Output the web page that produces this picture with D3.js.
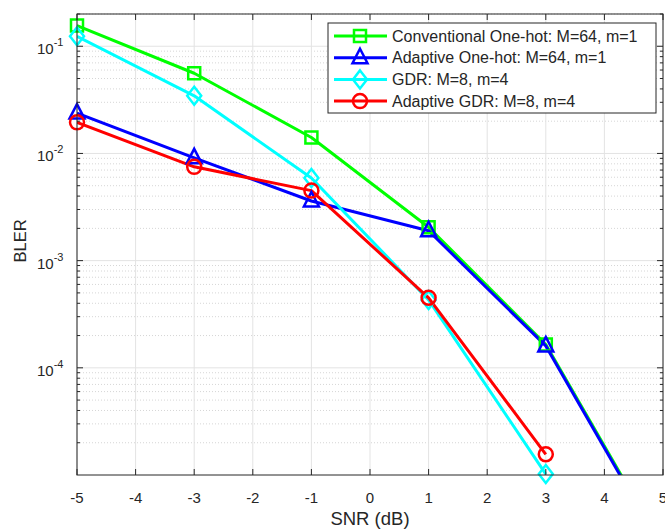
<!DOCTYPE html>
<html>
<head>
<meta charset="utf-8">
<script src="https://cdn.jsdelivr.net/npm/d3@7"></script>
<style>
  body { margin: 0; background: #fff; }
  text { font-family: "Liberation Sans", Arial, sans-serif; fill: #262626; }
</style>
</head>
<body>
<svg id="chartSVG" width="665" height="531"></svg>
<script>
// SNR points (dB)
var snr = [-5, -3, -1, 1, 3, 5];
var convOneHot = [0.156, 0.056, 0.0141, 0.00205, 0.000165, 0.0000021];
var adaptOneHot = [0.0238, 0.0091, 0.0036, 0.0019, 0.00016, 0.000002];
var gdr = [0.124, 0.0345, 0.0059, 0.00043, 0.0000102];
var adaptGdr = [0.0195, 0.0075, 0.0045, 0.00045, 0.0000156];
var xTicks = [-5, -4, -3, -2, -1, 0, 1, 2, 3, 4, 5];
var yTicks = [-1, -2, -3, -4];
var seriesNames = ["Conventional One-hot: M=64, m=1", "Adaptive One-hot: M=64, m=1", "GDR: M=8, m=4", "Adaptive GDR: M=8, m=4"];

var series = [
  { name: seriesNames[0], values: convOneHot, color: "#00ff00", marker: "square" },
  { name: seriesNames[1], values: adaptOneHot, color: "#0000ff", marker: "triangle" },
  { name: seriesNames[2], values: gdr, color: "#00ffff", marker: "diamond" },
  { name: seriesNames[3], values: adaptGdr, color: "#ff0000", marker: "circle" }
];

drawChart("#chartSVG");

function markerPath(type) {
  if (type == "square") return "M-6,-6H6V6H-6Z";
  if (type == "triangle") return "M0,-9L7.5,5.5H-7.5Z";
  if (type == "diamond") return "M0,-9L7,0L0,9L-7,0Z";
  return d3.symbol().type(d3.symbolCircle).size(Math.PI * 49)();
}

function drawChart(elm) {
  var svg = d3.select(elm);
  var left = 77, right = 663, top = 14, bottom = 475;

  var x = d3.scaleLinear().domain([-5, 5]).range([left, right]);
  var y = d3.scaleLog().domain([1e-5, 0.2]).range([bottom, top]);

  // minor / major grid
  var minors = [];
  for (var e = -5; e <= -1; e++) {
    for (var k = 2; k <= 9; k++) {
      var v = k * Math.pow(10, e);
      if (v <= 0.2) minors.push(v);
    }
  }
  var grid = svg.append("g");
  grid.selectAll(".minor")
    .data(minors)
    .join("line")
    .attr("x1", left).attr("x2", right)
    .attr("y1", d => y(d)).attr("y2", d => y(d))
    .attr("stroke", "#d6d6d6")
    .attr("stroke-width", 1)
    .attr("stroke-dasharray", "1,2");
  grid.selectAll(".majY")
    .data(yTicks)
    .join("line")
    .attr("x1", left).attr("x2", right)
    .attr("y1", d => y(Math.pow(10, d))).attr("y2", d => y(Math.pow(10, d)))
    .attr("stroke", "#e3e3e3")
    .attr("stroke-width", 1);
  grid.selectAll(".majX")
    .data(xTicks)
    .join("line")
    .attr("x1", d => x(d)).attr("x2", d => x(d))
    .attr("y1", top).attr("y2", bottom)
    .attr("stroke", "#e3e3e3")
    .attr("stroke-width", 1);

  // clip for lines (markers are only drawn for points inside the axes)
  svg.append("clipPath").attr("id", "plotClip")
    .append("rect")
    .attr("x", left).attr("y", top)
    .attr("width", right - left).attr("height", bottom - top);

  var plot = svg.append("g").attr("clip-path", "url(#plotClip)");
  var line = d3.line()
    .x((d, i) => x(snr[i]))
    .y(d => y(d));

  series.forEach(function (s) {
    plot.append("path")
      .attr("d", line(s.values))
      .attr("fill", "none")
      .attr("stroke", s.color)
      .attr("stroke-width", 3)
      .attr("stroke-linejoin", "round");
  });
  var yMin = y.domain()[0];
  series.forEach(function (s) {
    var pts = s.values.map((d, i) => [snr[i], d]).filter(p => p[1] >= yMin);
    svg.append("g").selectAll("path")
      .data(pts)
      .join("path")
      .attr("d", markerPath(s.marker))
      .attr("transform", p => `translate(${x(p[0])},${y(p[1])})`)
      .attr("fill", "none")
      .attr("stroke", s.color)
      .attr("stroke-width", 2.5);
  });

  // axes box and ticks
  var ax = svg.append("g").attr("stroke", "#262626").attr("stroke-width", 1);
  ax.append("rect")
    .attr("x", left).attr("y", top)
    .attr("width", right - left).attr("height", bottom - top)
    .attr("fill", "none");
  ax.selectAll(".xt")
    .data(xTicks)
    .join("path")
    .attr("d", d => `M${x(d)},${bottom}v-6M${x(d)},${top}v6`);
  ax.selectAll(".yt")
    .data(yTicks)
    .join("path")
    .attr("d", d => `M${left},${y(Math.pow(10, d))}h6M${right},${y(Math.pow(10, d))}h-6`);
  ax.selectAll(".ymt")
    .data(minors)
    .join("path")
    .attr("d", d => `M${left},${y(d)}h3M${right},${y(d)}h-3`);

  // tick labels
  svg.selectAll(".xl")
    .data(xTicks)
    .join("text")
    .attr("x", d => x(d))
    .attr("y", bottom + 28)
    .attr("text-anchor", "middle")
    .attr("font-size", 15)
    .text(d => d);

  var yl = svg.selectAll(".yl")
    .data(yTicks)
    .join("text")
    .attr("x", left - 40)
    .attr("y", d => y(Math.pow(10, d)) + 8)
    .attr("font-size", 15);
  yl.append("tspan").text("10");
  yl.append("tspan")
    .attr("dy", -8)
    .attr("font-size", 11)
    .text(d => d);

  svg.append("text")
    .attr("x", (left + right) / 2)
    .attr("y", 525)
    .attr("text-anchor", "middle")
    .attr("font-size", 18.5)
    .text("SNR (dB)");
  svg.append("text")
    .attr("transform", "translate(26,241) rotate(-90)")
    .attr("text-anchor", "middle")
    .attr("font-size", 16.5)
    .text("BLER");

  // legend
  var lg = svg.append("g");
  lg.append("rect")
    .attr("x", 328).attr("y", 23)
    .attr("width", 328).attr("height", 90)
    .attr("fill", "#fff")
    .attr("stroke", "#262626")
    .attr("stroke-width", 1);
  var rows = lg.selectAll(".row")
    .data(series)
    .join("g")
    .attr("transform", (d, i) => `translate(0,${36 + i * 21.7})`);
  rows.append("line")
    .attr("x1", 334).attr("x2", 387)
    .attr("stroke", d => d.color)
    .attr("stroke-width", 3);
  rows.append("path")
    .attr("d", d => markerPath(d.marker))
    .attr("transform", "translate(360,0)")
    .attr("fill", "none")
    .attr("stroke", d => d.color)
    .attr("stroke-width", 2.5);
  rows.append("text")
    .attr("x", 392)
    .attr("y", 5.5)
    .attr("font-size", 16)
    .text(d => d.name);
}
</script>
</body>
</html>
